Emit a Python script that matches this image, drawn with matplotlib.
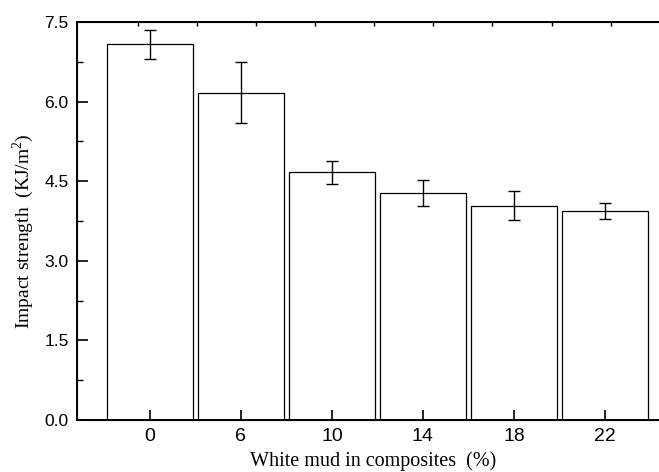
import numpy as np
import matplotlib.pyplot as plt

plt.rcParams['mathtext.fontset'] = 'custom'
plt.rcParams['mathtext.rm'] = 'Liberation Serif'

# data
content = ['0', '6', '10', '14', '18', '22']
strength = [7.08, 6.17, 4.67, 4.28, 4.04, 3.94]
err = [0.27, 0.58, 0.22, 0.24, 0.28, 0.145]

W, H = 659, 472
fig = plt.figure(figsize=(W / 100, H / 100), dpi=100)
# axes from pixel 77 to right edge, y 22 to 420
ax = fig.add_axes([77 / W, (H - 420) / H, (W - 77) / W, (420 - 22) / H])

x = np.arange(len(content))
ax.bar(x, strength, width=0.945, color='white', edgecolor='black', linewidth=0.9,
       yerr=err, capsize=4.5, error_kw=dict(elinewidth=1.0, capthick=1.0, ecolor='black'))

ax.set_xlim(-0.8, 5 + 54 / 91)
ax.set_ylim(0, 7.5)
ax.set_xticks(x)
ax.set_xticklabels(content, fontfamily='Liberation Sans', fontsize=14)
ax.set_yticks(np.arange(0, 7.6, 1.5))
ax.set_yticklabels(['%.1f' % v for v in np.arange(0, 7.6, 1.5)],
                   fontfamily='Liberation Sans', fontsize=12.5)
ax.set_yticks(np.arange(0.75, 7.5, 1.5), minor=True)
ax.tick_params(axis='y', which='major', direction='in', length=8, width=1.2, pad=6)
ax.tick_params(axis='y', which='minor', direction='in', length=4, width=1.0)
ax.tick_params(axis='x', which='major', direction='in', length=7, width=1.2, pad=6)

ax.spines['right'].set_visible(False)
for s in ['left', 'bottom', 'top']:
    ax.spines[s].set_linewidth(1.4)

# top axis with short inward ticks
ax2 = ax.twiny()
ax2.set_xlim(0, (W - 77) / 59.1)
ax2.set_xticks(np.arange(1, 10) + 0.03)
ax2.tick_params(axis='x', direction='in', length=3, width=1.0, labeltop=False)
ax2.spines['right'].set_visible(False)

fig.text(373 / W, 1 - 461 / H, 'White mud in composites  (%)', ha='center', va='center',
         fontfamily='Liberation Serif', fontsize=14.5)
fig.text(23 / W, 1 - 231 / H, 'Impact strength  (KJ/m$^{2}$)', ha='center', va='center',
         rotation=90, fontfamily='Liberation Serif', fontsize=14)

fig.savefig('out.png', dpi=100)
